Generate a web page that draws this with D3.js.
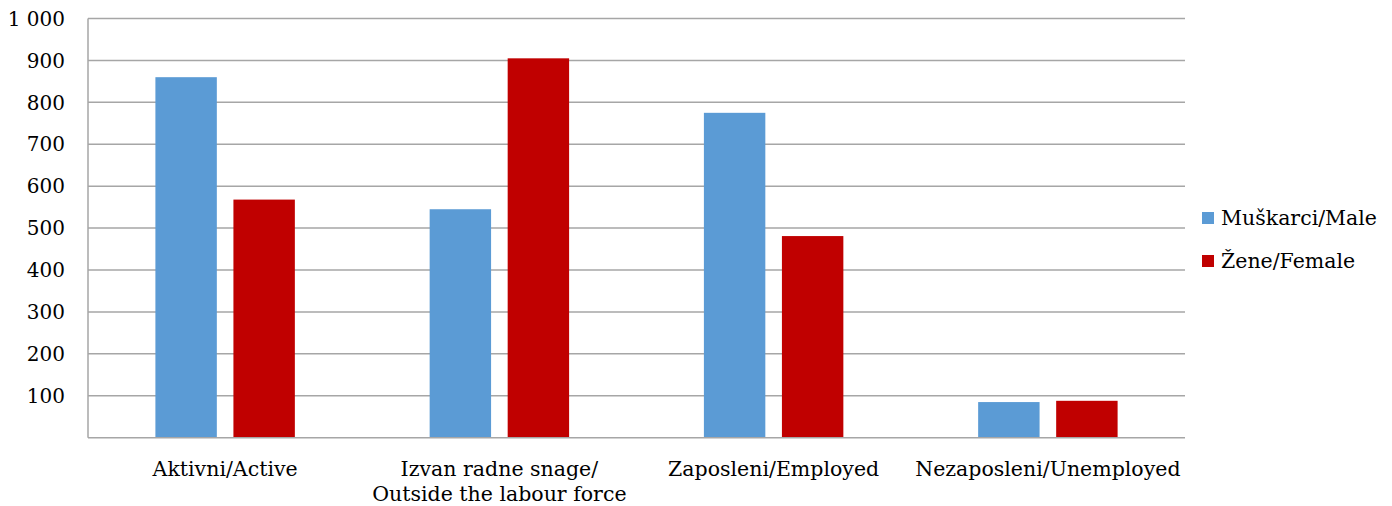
<!DOCTYPE html>
<html lang="en">
<head>
  <meta charset="UTF-8">
  <title>Chart</title>
  <style>
    body { margin: 0; background: #fff; }
    text { font-family: 'DejaVu Serif', serif; fill: #000; }
  </style>
</head>
<body>
  <svg id="svg" width="1392" height="506"></svg>
  <script src="https://d3js.org/d3.v7.min.js"></script>
  <script>
    const categories = [
      ['Aktivni/Active'],
      ['Izvan radne snage/', 'Outside the labour force'],
      ['Zaposleni/Employed'],
      ['Nezaposleni/Unemployed']
    ]
    const seriesNames = ['Muškarci/Male', 'Žene/Female']
    const male = [860, 545, 775, 85]
    const female = [568, 905, 481, 88]
    const yTicks = [100, 200, 300, 400, 500, 600, 700, 800, 900, 1000]
    const colors = ['#5b9bd5', '#c00000']

    const plotLeft = 88, plotRight = 1185, plotTop = 18.5, plotBottom = 437.7

    const svg = d3.select('#svg')

    const x0 = d3.scaleBand()
      .domain(d3.range(categories.length))
      .range([plotLeft, plotRight])

    const y = d3.scaleLinear()
      .domain([0, 1000])
      .range([plotBottom, plotTop])

    // gridlines
    svg.append('g')
      .selectAll('line')
      .data(yTicks)
      .enter()
      .append('line')
      .attr('x1', plotLeft)
      .attr('x2', plotRight)
      .attr('y1', d => y(d))
      .attr('y2', d => y(d))
      .attr('stroke', '#a6a6a6')
      .attr('stroke-width', 1.5)

    // y labels
    svg.append('g')
      .selectAll('text')
      .data(yTicks)
      .enter()
      .append('text')
      .text(d => d3.format(',')(d).replace(',', ' '))
      .attr('x', 65)
      .attr('y', d => y(d))
      .attr('dy', '0.36em')
      .attr('text-anchor', 'end')
      .style('font-size', '20px')

    const bw = x0.bandwidth()
    const barW = bw * 0.224
    const gap = bw * 0.0605
    const values = [male, female]

    values.forEach((vals, s) => {
      svg.append('g')
        .selectAll('rect')
        .data(vals)
        .enter()
        .append('rect')
        .attr('x', (d, i) => {
          const c = x0(i) + bw / 2
          return s === 0 ? c - gap / 2 - barW : c + gap / 2
        })
        .attr('width', barW)
        .attr('y', d => y(d))
        .attr('height', d => y(0) - y(d))
        .attr('fill', colors[s])
    })

    // axes
    svg.append('line')
      .attr('x1', plotLeft).attr('x2', plotLeft)
      .attr('y1', plotTop).attr('y2', plotBottom)
      .attr('stroke', '#a6a6a6').attr('stroke-width', 1.5)
    svg.append('line')
      .attr('x1', plotLeft).attr('x2', plotRight)
      .attr('y1', plotBottom).attr('y2', plotBottom)
      .attr('stroke', '#a6a6a6').attr('stroke-width', 1.5)

    // category labels
    const cat = svg.append('g')
      .selectAll('text')
      .data(categories)
      .enter()
      .append('text')
      .attr('text-anchor', 'middle')
      .style('font-size', '20.5px')
    cat.selectAll('tspan')
      .data((d, i) => d.map(t => ({ t, i })))
      .enter()
      .append('tspan')
      .text(d => d.t)
      .attr('x', d => x0(d.i) + bw / 2)
      .attr('y', (d, j) => 476 + j * 25)

    // legend
    const legend = svg.append('g')
      .selectAll('g')
      .data(seriesNames)
      .enter()
      .append('g')
      .attr('transform', (d, i) => `translate(1202, ${212 + i * 43})`)
    legend.append('rect')
      .attr('width', 12)
      .attr('height', 12)
      .attr('fill', (d, i) => colors[i])
    legend.append('text')
      .text(d => d)
      .attr('x', 19)
      .attr('y', 13)
      .style('font-size', '20.5px')
  </script>
</body>
</html>
